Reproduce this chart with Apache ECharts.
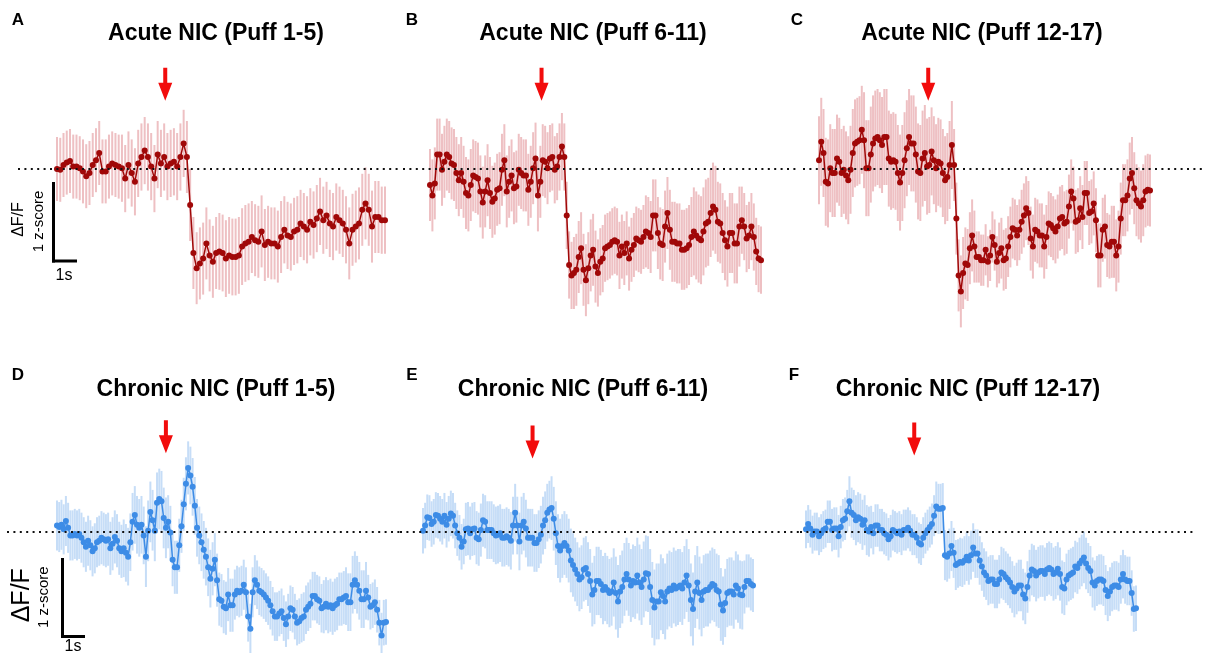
<!DOCTYPE html>
<html>
<head>
<meta charset="utf-8">
<script src="https://cdn.jsdelivr.net/npm/echarts@6/dist/echarts.min.js"></script>
<style>
html, body { margin: 0; padding: 0; background: #fff; }
#main { width: 1211px; height: 653px; }
</style>
</head>
<body>
<div id="main"></div>
<script>
// mean z-score traces, one value per sample
var acute1 = [0.00,-0.01,0.05,0.08,0.10,0.03,0.03,0.01,-0.03,-0.09,-0.05,0.05,0.11,0.20,-0.03,-0.03,0.03,0.07,0.05,0.03,
  0.01,-0.12,0.05,-0.05,-0.16,0.07,0.15,0.23,0.15,0.03,-0.12,0.18,0.07,0.15,0.03,0.07,0.09,0.03,0.15,0.32,0.15,-0.45,
  -1.05,-1.24,-1.18,-1.12,-0.93,-1.08,-1.16,-1.05,-1.03,-1.05,-1.12,-1.08,-1.10,-1.10,-1.08,-0.97,-0.93,-0.91,-0.85,-0.89,
  -0.91,-0.78,-0.95,-0.91,-0.93,-0.93,-0.97,-0.85,-0.76,-0.83,-0.85,-0.78,-0.76,-0.68,-0.72,-0.76,-0.66,-0.70,-0.62,-0.53,
  -0.64,-0.58,-0.68,-0.72,-0.60,-0.64,-0.68,-0.76,-0.93,-0.76,-0.72,-0.68,-0.51,-0.43,-0.51,-0.72,-0.60,-0.60,-0.64,-0.64];
var acute2 = [-0.20,-0.33,-0.18,0.18,0.18,-0.01,0.09,0.18,0.15,0.07,0.05,-0.05,-0.14,-0.05,-0.16,-0.30,-0.33,-0.20,-0.08,-0.10,
  -0.12,-0.28,-0.42,-0.28,-0.14,-0.30,-0.41,-0.37,-0.26,-0.24,-0.01,0.11,-0.28,-0.16,-0.08,-0.24,-0.22,-0.01,-0.05,-0.08,
  -0.08,-0.26,-0.16,0.01,0.13,-0.33,-0.16,0.11,0.09,0.01,0.13,0.15,-0.01,0.03,0.15,0.28,0.15,-0.58,-1.20,-1.33,
  -1.30,-1.26,-1.10,-0.99,-1.26,-1.39,-1.24,-1.08,-1.01,-1.22,-1.30,-1.16,-1.12,-0.99,-0.97,-0.95,-0.91,-0.89,-0.91,-1.08,
  -0.97,-1.05,-0.93,-1.12,-1.01,-0.95,-0.87,-0.89,-0.91,-0.85,-0.78,-0.80,-0.85,-0.58,-0.58,-0.80,-0.93,-0.95,-0.72,-0.55,
  -0.76,-0.91,-0.91,-0.93,-0.93,-1.01,-1.01,-0.99,-0.95,-0.85,-0.78,-0.83,-0.87,-0.89,-0.78,-0.68,-0.66,-0.55,-0.47,-0.51,
  -0.66,-0.68,-0.80,-0.89,-0.97,-0.80,-0.80,-0.93,-0.93,-0.72,-0.64,-0.72,-0.87,-0.83,-0.72,-0.85,-1.03,-1.12,-1.14];
var acute3 = [0.11,0.34,0.20,-0.16,-0.18,0.01,-0.05,-0.05,0.13,0.09,-0.05,-0.01,-0.08,-0.14,-0.01,0.20,0.32,0.34,0.36,0.49,
  0.36,0.01,0.01,0.18,0.32,0.38,0.40,0.36,0.30,0.40,0.40,0.13,0.09,0.11,0.09,-0.05,-0.17,-0.05,0.11,0.26,
  0.40,0.32,0.32,0.18,-0.03,-0.05,0.13,0.20,0.03,0.05,0.22,0.11,0.01,0.09,0.07,-0.05,-0.14,-0.10,0.05,0.30,0.05,-0.62,
  -1.33,-1.53,-1.30,-1.18,-1.20,-0.99,-0.83,-0.97,-1.10,-1.10,-1.14,-1.14,-1.01,-1.16,-1.08,-0.85,-0.95,-1.16,-1.05,-0.99,
  -1.14,-1.12,-0.97,-0.85,-0.74,-0.76,-0.83,-0.76,-0.66,-0.58,-0.49,-0.55,-0.87,-0.97,-0.76,-0.78,-0.83,-0.83,-0.97,-0.85,
  -0.68,-0.70,-0.74,-0.78,-0.72,-0.62,-0.60,-0.68,-0.66,-0.47,-0.28,-0.37,-0.66,-0.64,-0.49,-0.60,-0.30,-0.30,-0.55,-0.53,
  -0.43,-0.64,-1.08,-1.08,-0.76,-0.72,-0.95,-0.97,-0.91,-0.91,-1.08,-0.97,-0.62,-0.39,-0.39,-0.33,-0.12,-0.05,-0.24,-0.39,
  -0.43,-0.47,-0.39,-0.28,-0.26,-0.27];
var chronic1 = [0.08,0.06,0.09,0.03,0.14,0.05,-0.05,-0.05,-0.03,-0.05,-0.03,-0.08,-0.14,-0.20,-0.12,-0.18,-0.26,-0.22,-0.14,-0.12,
  -0.08,-0.10,-0.12,-0.10,-0.22,-0.16,-0.07,-0.12,-0.22,-0.26,-0.22,-0.28,-0.33,-0.14,0.13,0.22,0.09,0.05,0.09,-0.05,
  -0.33,0.01,0.26,0.15,0.01,0.38,0.43,0.40,0.18,0.05,0.13,-0.01,-0.37,-0.47,-0.47,-0.18,0.07,0.36,0.63,0.84,
  0.74,0.59,0.34,0.05,-0.05,-0.14,-0.24,-0.33,-0.47,-0.62,-0.49,-0.37,-0.64,-0.89,-0.91,-0.99,-1.01,-0.83,-0.97,-0.97,
  -0.83,-0.78,-0.80,-0.78,-0.70,-0.80,-1.12,-1.28,-0.80,-0.64,-0.70,-0.78,-0.80,-0.83,-0.87,-0.91,-0.97,-1.05,-1.12,-1.12,
  -1.08,-1.05,-1.14,-1.22,-1.12,-1.01,-1.03,-1.12,-1.20,-1.18,-1.14,-1.12,-1.03,-0.99,-0.95,-0.85,-0.85,-0.89,-0.91,-1.01,
  -0.99,-0.95,-0.99,-0.97,-1.01,-0.97,-0.95,-0.89,-0.89,-0.87,-0.85,-0.93,-0.93,-0.70,-0.64,-0.70,-0.78,-0.89,-0.89,-0.78,
  -0.87,-0.99,-0.97,-0.93,-1.03,-1.20,-1.37,-1.20,-1.19];
var chronic2 = [0.01,0.08,0.19,0.18,0.10,0.13,0.22,0.21,0.17,0.13,0.21,0.09,0.17,0.24,0.21,0.08,-0.02,-0.08,-0.20,-0.13,
  0.03,0.04,-0.02,0.03,0.04,-0.08,-0.10,0.02,0.15,0.13,0.02,0.02,0.02,-0.02,-0.05,-0.04,-0.02,-0.08,-0.08,-0.06,
  -0.08,-0.12,0.08,0.25,0.08,-0.13,0.08,0.13,0.04,-0.08,-0.08,-0.08,-0.15,-0.15,-0.10,-0.04,0.08,0.15,0.25,0.29,
  0.31,0.17,-0.02,-0.19,-0.25,-0.19,-0.15,-0.19,-0.25,-0.38,-0.44,-0.50,-0.56,-0.63,-0.60,-0.50,-0.48,-0.56,-0.65,-0.83,
  -0.77,-0.65,-0.65,-0.69,-0.77,-0.73,-0.77,-0.81,-0.79,-0.67,-0.81,-0.92,-0.79,-0.73,-0.63,-0.56,-0.63,-0.71,-0.65,-0.67,
  -0.58,-0.67,-0.73,-0.63,-0.55,-0.56,-0.73,-0.90,-1.00,-0.92,-0.92,-0.80,-0.85,-0.92,-0.79,-0.75,-0.77,-0.71,-0.75,-0.73,
  -0.71,-0.75,-0.67,-0.58,-0.71,-0.90,-1.02,-0.79,-0.67,-0.81,-0.90,-0.79,-0.77,-0.77,-0.73,-0.69,-0.71,-0.77,-0.79,-0.96,
  -1.04,-0.94,-0.81,-0.79,-0.79,-0.83,-0.71,-0.75,-0.83,-0.84,-0.73,-0.65,-0.65,-0.69,-0.71];
var chronic3 = [0.03,0.10,0.04,-0.04,0.00,0.00,-0.06,-0.02,0.02,0.04,0.13,0.13,0.02,0.04,0.04,-0.06,0.06,0.15,0.17,0.27,
  0.40,0.25,0.22,0.15,0.19,0.17,0.09,0.15,0.02,0.00,0.06,-0.02,0.08,0.08,0.02,0.02,-0.02,-0.04,-0.10,-0.06,
  0.02,0.00,-0.02,0.00,-0.04,0.02,0.02,0.05,0.01,-0.04,-0.04,-0.08,-0.15,-0.17,-0.08,-0.02,0.02,0.06,0.10,0.21,
  0.33,0.30,0.30,0.31,-0.31,-0.33,-0.29,-0.19,-0.28,-0.44,-0.42,-0.40,-0.41,-0.38,-0.33,-0.38,-0.31,-0.21,-0.29,-0.29,
  -0.38,-0.46,-0.54,-0.58,-0.65,-0.63,-0.63,-0.69,-0.69,-0.63,-0.54,-0.56,-0.60,-0.63,-0.67,-0.73,-0.79,-0.75,-0.71,-0.71,
  -0.83,-0.88,-0.73,-0.58,-0.50,-0.52,-0.58,-0.54,-0.52,-0.52,-0.56,-0.50,-0.48,-0.50,-0.56,-0.54,-0.49,-0.56,-0.73,-0.75,
  -0.63,-0.58,-0.56,-0.54,-0.46,-0.48,-0.42,-0.38,-0.34,-0.42,-0.48,-0.52,-0.67,-0.71,-0.65,-0.63,-0.63,-0.65,-0.77,-0.85,
  -0.79,-0.73,-0.71,-0.71,-0.73,-0.63,-0.56,-0.63,-0.65,-0.65,-0.81,-1.02,-1.01];

// SEM half-widths, one value per block of 10 samples
var errAcute1 = [0.40,0.40,0.42,0.42,0.45,0.48,0.45,0.42,0.42,0.45,0.42];
var errAcute2 = [0.45,0.45,0.45,0.45,0.45,0.42,0.45,0.42,0.40,0.45,0.50,0.55,0.50,0.42];
var errAcute3 = [0.55,0.55,0.60,0.60,0.60,0.55,0.45,0.32,0.38,0.40,0.40,0.40,0.40,0.45,0.45];
var errChronic1 = [0.33,0.33,0.35,0.38,0.40,0.35,0.38,0.35,0.33,0.32,0.30,0.32,0.35,0.38,0.30];
var errChronic2 = [0.30,0.30,0.35,0.38,0.38,0.38,0.42,0.42,0.45,0.48,0.50,0.50,0.48,0.48,0.45,0.35];
var errChronic3 = [0.25,0.28,0.33,0.28,0.27,0.27,0.33,0.32,0.32,0.34,0.34,0.35,0.34,0.33,0.32,0.30];

var panelTitles = ["Acute NIC (Puff 1-5)", "Acute NIC (Puff 6-11)", "Acute NIC (Puff 12-17)",
                   "Chronic NIC (Puff 1-5)", "Chronic NIC (Puff 6-11)", "Chronic NIC (Puff 12-17)"];
var panelLetters = ["A", "B", "C", "D", "E", "F"];
var stimFraction = [0.330, 0.337, 0.330, 0.331, 0.332, 0.328];  // arrow position along the trace

var RED = "#a00808", RED_ERR = "#eec0c3";
var BLUE = "#3d8ce6", BLUE_ERR = "#c6ddf7";
var UNIT = 80;  // px per z-score

// layout (pixels): dotted line span, data span, baseline, arrow height in z
var layout = [
  { ls: 18,  le: 400,  ds: 57,  de: 385,  base: 169, ay: 1.06, tx: 216 },
  { ls: 403, le: 798,  ds: 430, de: 761,  base: 169, ay: 1.06, tx: 593 },
  { ls: 803, le: 1206, ds: 819, de: 1150, base: 169, ay: 1.06, tx: 982 },
  { ls: 7,   le: 400,  ds: 57,  de: 386,  base: 537, ay: 1.25, tx: 216 },
  { ls: 400, le: 800,  ds: 423, de: 753,  base: 537, ay: 1.18, tx: 583 },
  { ls: 800, le: 1193, ds: 806, de: 1136, base: 537, ay: 1.22, tx: 968 }
];
var traces = [acute1, acute2, acute3, chronic1, chronic2, chronic3];
var errs = [errAcute1, errAcute2, errAcute3, errChronic1, errChronic2, errChronic3];

var Y_MIN = -1.6, Y_MAX = 1.3;
var grids = [], xAxes = [], yAxes = [], series = [], graphics = [];

traces.forEach(function(vals, k) {
    var L = layout[k];
    var n = vals.length;
    var pxPer = (L.de - L.ds) / (n - 1);
    var acute = k < 3;
    var col = acute ? RED : BLUE;
    var errCol = acute ? RED_ERR : BLUE_ERR;

    grids.push({ left: L.ls, width: L.le - L.ls, top: L.base - Y_MAX * UNIT, height: (Y_MAX - Y_MIN) * UNIT });
    xAxes.push({ type: 'value', gridIndex: k, show: false,
                 min: -(L.ds - L.ls) / pxPer, max: (n - 1) + (L.le - L.de) / pxPer });
    yAxes.push({ type: 'value', gridIndex: k, show: false, min: Y_MIN, max: Y_MAX });

    var errData = vals.map(function(v, i) {
        var e = errs[k][Math.min(Math.floor(i / 10), errs[k].length - 1)];
        return [i, v - e, v + e];
    });
    series.push({
        type: 'custom', xAxisIndex: k, yAxisIndex: k, silent: true, clip: false,
        data: errData,
        encode: { x: 0, y: [1, 2] },
        renderItem: function(params, api) {
            var p1 = api.coord([api.value(0), api.value(1)]);
            var p2 = api.coord([api.value(0), api.value(2)]);
            return { type: 'line', shape: { x1: p1[0], y1: p1[1], x2: p2[0], y2: p2[1] },
                     style: { stroke: errCol, lineWidth: 2 } };
        }
    });
    series.push({
        type: 'line', xAxisIndex: k, yAxisIndex: k, silent: true, clip: false,
        data: vals.map(function(v, i) { return [i, v]; }),
        symbol: 'circle', symbolSize: 6, showSymbol: true,
        lineStyle: { color: col, width: 1.5 },
        itemStyle: { color: col },
        markLine: {
            silent: true, symbol: ['none', 'none'], label: { show: false },
            lineStyle: { color: '#111', type: [2, 4.4], width: 2 },
            data: [{ yAxis: 0 }]
        }
    });
    series.push({
        type: 'scatter', xAxisIndex: k, yAxisIndex: k, silent: true, clip: false,
        data: [[stimFraction[k] * (n - 1), L.ay]],
        symbol: 'path://M5,0 L9,0 L9,15 L14,15 L7,33 L0,15 L5,15 Z',
        symbolSize: [14, 33],
        itemStyle: { color: '#f20c0c', opacity: 1 }
    });

    var letterX = [18, 412, 797, 18, 412, 794][k];
    graphics.push({ type: 'text', x: letterX, y: L.base < 300 ? 20 : 375,
        style: { text: panelLetters[k], font: 'bold 17px "Liberation Sans", Arial', fill: '#000',
                 textAlign: 'center', textVerticalAlign: 'middle' } });
    graphics.push({ type: 'text', x: L.tx, y: L.base < 300 ? 34 : 390,
        style: { text: panelTitles[k], font: 'bold 23px "Liberation Sans", Arial', fill: '#000',
                 textAlign: 'center', textVerticalAlign: 'middle' } });
});

// scale bars
function scaleBar(x, yTop, yBot, xRight, sLabel, zx, dx, dSize, sy) {
    graphics.push({ type: 'line', shape: { x1: x, y1: yTop, x2: x, y2: yBot + 1.5 }, style: { stroke: '#000', lineWidth: 3 } });
    graphics.push({ type: 'line', shape: { x1: x - 1.5, y1: yBot, x2: xRight, y2: yBot }, style: { stroke: '#000', lineWidth: 3 } });
    graphics.push({ type: 'text', x: x + 2, y: sy,
        style: { text: sLabel, font: '16px "Liberation Sans", Arial', fill: '#000', textAlign: 'left', textVerticalAlign: 'middle' } });
    graphics.push({ type: 'text', x: zx, y: (yTop + yBot) / 2, rotation: Math.PI / 2,
        style: { text: '1 z-score', font: '15px "Liberation Sans", Arial', fill: '#000', textAlign: 'center', textVerticalAlign: 'middle' } });
    graphics.push({ type: 'text', x: dx, y: (yTop + yBot) / 2 - 2, rotation: Math.PI / 2,
        style: { text: 'ΔF/F', font: dSize + 'px "Liberation Sans", Arial', fill: '#000', textAlign: 'center', textVerticalAlign: 'middle' } });
}
scaleBar(53.5, 182, 261, 77, '1s', 39, 19, 16, 276);
scaleBar(62.5, 558, 636.5, 85, '1s', 44, 22, 25, 647);

var chart = echarts.init(document.getElementById('main'));
chart.setOption({
    animation: false,
    backgroundColor: '#fff',
    grid: grids,
    xAxis: xAxes,
    yAxis: yAxes,
    series: series,
    graphic: graphics
});
</script>
</body>
</html>
